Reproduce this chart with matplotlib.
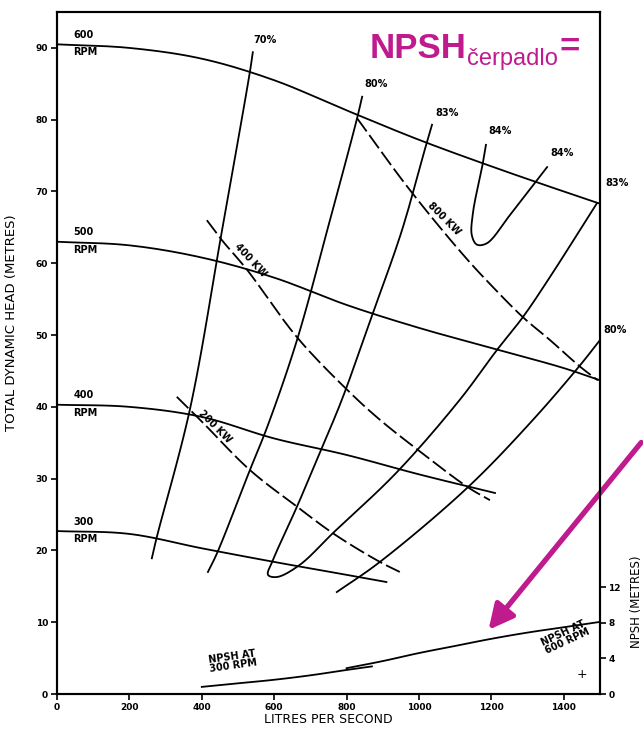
import matplotlib.pyplot as plt
import numpy as np

# pump head curves: flow (l/s) vs total dynamic head (m)
q_600 = [0, 200, 400, 600, 800, 1000, 1200, 1400, 1500]
h_600 = [90.5, 90.0, 88.5, 85.5, 81.3, 77.2, 73.5, 70.0, 68.3]
q_500 = [0, 200, 400, 600, 800, 1000, 1200, 1400, 1500]
h_500 = [63.0, 62.5, 60.8, 58.0, 54.2, 51.0, 48.2, 45.4, 43.7]
q_400 = [0, 200, 400, 600, 800, 1000, 1210]
h_400 = [40.3, 40.0, 38.6, 35.6, 33.3, 30.6, 28.0]
q_300 = [0, 200, 400, 600, 800, 910]
h_300 = [22.7, 22.3, 20.3, 18.4, 16.6, 15.6]

# efficiency contours
q_e70 = [541, 533, 456, 367, 276, 262]
h_e70 = [89.4, 86.7, 64.6, 39.6, 21.9, 18.9]
q_e80a = [843, 829, 754, 663, 583, 533, 442, 417]
h_e80a = [83.2, 80.2, 66.0, 49.3, 37.5, 31.2, 19.6, 17.0]
q_e80b = [1500, 1445, 1315, 1135, 892, 773]
h_e80b = [49.3, 45.8, 38.2, 28.8, 18.4, 14.2]
q_e83 = [1036, 1022, 953, 873, 787, 726, 663, 597, 583, 608, 671, 762, 939,
         1113, 1215, 1287, 1362, 1492]
h_e83 = [79.3, 76.9, 64.6, 53.1, 41.0, 33.6, 26.1, 18.7, 16.6, 16.3, 18.0, 22.4, 30.9,
         41.0, 47.9, 52.5, 58.1, 68.4]
q_e84 = [1185, 1177, 1149, 1146, 1160, 1188, 1251, 1326, 1354]
h_e84 = [76.5, 74.1, 67.0, 63.9, 62.6, 62.8, 66.7, 71.6, 73.4]

# power lines
q_800kw = [829, 975, 1127, 1204, 1287, 1362, 1445, 1494]
h_800kw = [80.2, 70.2, 60.9, 56.7, 52.5, 49.3, 45.6, 43.7]
q_400kw = [414, 456, 525, 663, 801, 892, 997, 1135, 1196]
h_400kw = [66.0, 63.2, 59.1, 49.7, 42.4, 38.2, 34.0, 28.8, 27.0]
q_200kw = [331, 403, 533, 663, 768, 892, 947]
h_200kw = [41.4, 37.8, 31.2, 26.1, 22.2, 18.4, 17.0]

# NPSH required (right axis)
q_npsh300 = [400, 500, 600, 700, 800, 870]
n_npsh300 = [0.8, 1.2, 1.6, 2.1, 2.7, 3.1]
q_npsh600 = [800, 900, 1000, 1100, 1200, 1300, 1400, 1500]
n_npsh600 = [2.9, 3.7, 4.6, 5.4, 6.2, 6.9, 7.5, 8.1]

MAG = '#bf1b8f'
FONT = 'DejaVu Sans'


def smooth(x, y, n=16, sx=1 / 2.762, sy=7.18):
    # centripetal catmull-rom through the read points (scaled to screen units)
    p = np.column_stack([np.asarray(x, float) * sx, np.asarray(y, float) * sy])
    p = np.vstack([2 * p[0] - p[1], p, 2 * p[-1] - p[-2]])
    out = []
    for i in range(1, len(p) - 2):
        P0, P1, P2, P3 = p[i - 1], p[i], p[i + 1], p[i + 2]
        t0 = 0.0
        t1 = t0 + np.linalg.norm(P1 - P0) ** 0.5 + 1e-9
        t2 = t1 + np.linalg.norm(P2 - P1) ** 0.5 + 1e-9
        t3 = t2 + np.linalg.norm(P3 - P2) ** 0.5 + 1e-9
        t = np.linspace(t1, t2, n, endpoint=False)[:, None]
        A1 = (t1 - t) / (t1 - t0) * P0 + (t - t0) / (t1 - t0) * P1
        A2 = (t2 - t) / (t2 - t1) * P1 + (t - t1) / (t2 - t1) * P2
        A3 = (t3 - t) / (t3 - t2) * P2 + (t - t2) / (t3 - t2) * P3
        B1 = (t2 - t) / (t2 - t0) * A1 + (t - t0) / (t2 - t0) * A2
        B2 = (t3 - t) / (t3 - t1) * A2 + (t - t1) / (t3 - t1) * A3
        out.append((t2 - t) / (t2 - t1) * B1 + (t - t1) / (t2 - t1) * B2)
    out.append(p[-2][None, :])
    out = np.vstack(out)
    return out[:, 0] / sx, out[:, 1] / sy


fig = plt.figure(figsize=(6.43, 7.29), dpi=100)
ax = fig.add_axes([0.0886, 0.048, 0.8445, 0.9355])
lw = 1.3

for q, h in [(q_600, h_600), (q_500, h_500), (q_400, h_400), (q_300, h_300),
             (q_e70, h_e70), (q_e80a, h_e80a), (q_e80b, h_e80b), (q_e83, h_e83), (q_e84, h_e84)]:
    xs, ys = smooth(q, h)
    ax.plot(xs, ys, color='black', lw=lw)

for q, h in [(q_800kw, h_800kw), (q_400kw, h_400kw), (q_200kw, h_200kw)]:
    xs, ys = smooth(q, h)
    ax.plot(xs, ys, color='black', lw=lw, linestyle=(0, (9, 2.5)))

ax.set_xlim(0, 1500)
ax.set_ylim(0, 95)
ax.set_xticks(range(0, 1500, 200))
ax.set_yticks(range(0, 100, 10))
ax.tick_params(labelsize=6.5, length=4, width=1.2, pad=2.5)
for lab in ax.get_xticklabels() + ax.get_yticklabels():
    lab.set_fontweight('bold')
for s in ax.spines.values():
    s.set_linewidth(1.5)

ax.set_xlabel('LITRES PER SECOND', fontsize=9, family=FONT, labelpad=1)
ax.set_ylabel('TOTAL DYNAMIC HEAD (METRES)', fontsize=9.5, family=FONT)
ax.yaxis.set_label_coords(-0.072, 0.545)

# speed labels
tk = dict(fontsize=7, fontweight='bold', family=FONT)
for q, h, s in [(q_600, h_600, '600'), (q_500, h_500, '500'), (q_400, h_400, '400'), (q_300, h_300, '300')]:
    ax.text(45, h[0] + 0.6, s, ha='left', va='bottom', **tk)
    ax.text(45, h[0] - 0.4, 'RPM', ha='left', va='top', **tk)

# efficiency labels
for q, h, s in [(575, 91.1, '70%'), (881, 85.0, '80%'), (1077, 80.9, '83%'),
                (1224, 78.4, '84%'), (1395, 75.4, '84%'), (1547, 71.2, '83%'), (1541, 50.7, '80%')]:
    ax.text(q, h, s, ha='center', va='center', clip_on=False, **tk)

# power labels
ax.text(1068, 66.2, '800 KW', rotation=-45, ha='center', va='center', **tk)
ax.text(535, 60.4, '400 KW', rotation=-47, ha='center', va='center', **tk)
ax.text(437, 37.2, '200 KW', rotation=-45, ha='center', va='center', **tk)

# NPSH axis
ax2 = ax.twinx()
ax2.set_ylim(0, 76.6)
ax2.set_yticks([0, 4, 8, 12])
ax2.tick_params(labelsize=6.5, length=4, width=1.2, pad=2)
for lab in ax2.get_yticklabels():
    lab.set_fontweight('bold')
for s in ax2.spines.values():
    s.set_linewidth(1.5)
xs, ys = smooth(q_npsh300, n_npsh300, sy=8.9)
ax2.plot(xs, ys, color='black', lw=lw)
xs, ys = smooth(q_npsh600, n_npsh600, sy=8.9)
ax2.plot(xs, ys, color='black', lw=lw)
ax2.text(486, 3.7, 'NPSH AT\n300 RPM', rotation=8, ha='center', va='center',
         linespacing=0.9, **tk)
ax2.text(1405, 6.4, 'NPSH AT\n600 RPM', rotation=25, ha='center', va='center',
         linespacing=0.9, **tk)
ax2.text(1450, 2.2, '+', ha='center', va='center', fontsize=9)
fig.text(0.990, 0.175, 'NPSH (METRES)', rotation=90, ha='center', va='center',
         fontsize=8.5, family=FONT)

# magenta annotation
fig.text(0.575, 0.920, 'NPSH', color=MAG, fontsize=25, fontweight='bold',
         family='Liberation Sans', va='baseline')
fig.text(0.727, 0.911, 'čerpadlo', color=MAG, fontsize=17,
         family='Liberation Sans', va='baseline')
fig.text(0.870, 0.922, '=', color=MAG, fontsize=25, fontweight='bold',
         family='Liberation Sans', va='baseline')
ax.annotate('', xy=(0.757, 0.133), xycoords='figure fraction',
            xytext=(1.0, 0.396), textcoords='figure fraction',
            arrowprops=dict(arrowstyle='-|>,head_length=1.5,head_width=0.75',
                            color=MAG, lw=3.8))

fig.savefig('out.png', dpi=100)
